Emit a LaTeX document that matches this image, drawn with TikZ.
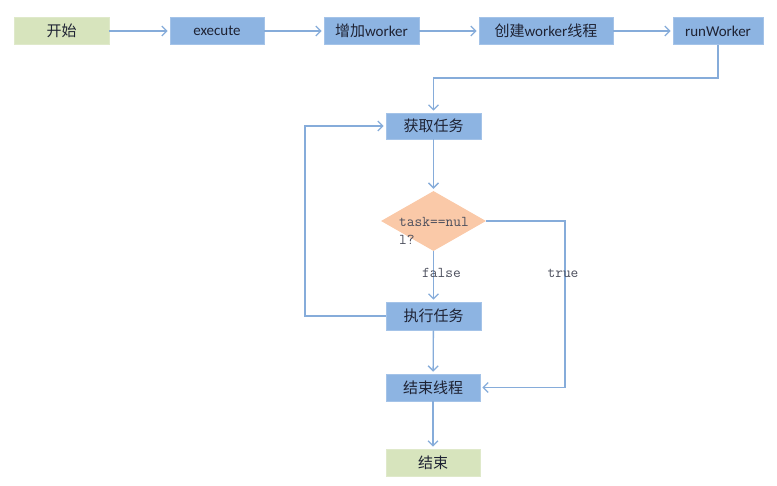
\documentclass[tikz,border=0pt]{standalone}
\usepackage{fontspec}
\setmainfont{Carlito}
\newfontfamily\cjk{Noto Sans CJK SC}
\newfontfamily\mono{Latin Modern Mono}
\usetikzlibrary{shapes.geometric,arrows.meta}
\definecolor{boxblue}{HTML}{8DB4E2}
\definecolor{boxgreen}{HTML}{D7E4BD}
\definecolor{peach}{HTML}{FAC9A8}
\definecolor{linec}{HTML}{86ACDA}
\definecolor{txt}{HTML}{1E2233}
\begin{document}
\begin{tikzpicture}[x=1pt,y=-1pt,
  bx/.style={rectangle,fill=boxblue,draw=boxblue!80!white,line width=0.6pt,minimum height=27pt,inner sep=0pt,text=txt,font=\fontsize{15}{17}\selectfont},
  gbx/.style={bx,fill=boxgreen,draw=boxgreen!80!white},
  arr/.style={draw=linec,line width=1.3pt,-{Straight Barb[length=5pt,width=10pt,line width=1.3pt]},shorten >=2pt},
  lbl/.style={text=txt!80,font=\mono\fontsize{15}{17}\selectfont,inner sep=0pt}
]
\path[use as bounding box] (0,0) rectangle (777,485);
\node[gbx,minimum width=95pt] (start) at (61.5,31) {\cjk 开始};
\node[bx,minimum width=94pt] (exec) at (217,31) {execute};
\node[bx,minimum width=95pt] (add) at (371.5,31) {{\cjk 增加}worker};
\node[bx,minimum width=134pt] (create) at (546,31) {{\cjk 创建}worker{\cjk 线程}};
\node[bx,minimum width=90pt] (run) at (718,31) {runWorker};
\node[bx,minimum width=95pt,minimum height=26pt] (get) at (433.5,126) {\cjk 获取任务};
\node[diamond,fill=peach,minimum width=105pt,minimum height=60pt,inner sep=0pt] (dec) at (433.5,221) {};
\node[lbl,anchor=west,align=left,font=\mono\fontsize{15}{18}\selectfont] (dectext) at (399,231) {task==nul\\l?};
\node[bx,minimum width=95pt,minimum height=28pt] (do) at (433.5,316) {\cjk 执行任务};
\node[bx,minimum width=94pt] (endt) at (433,387.5) {\cjk 结束线程};
\node[gbx,minimum width=94pt] (end) at (433,462.5) {\cjk 结束};
\coordinate (c1) at (718,78);
\coordinate (c2) at (433.5,78);
\coordinate (loopc) at (305,221);
\coordinate (truec) at (565,300);
\draw[arr] (start) -- (exec);
\draw[arr] (exec) -- (add);
\draw[arr] (add) -- (create);
\draw[arr] (create) -- (run);
\draw[arr] (run.south) -- (c1) -- (c2) -- (get.north);
\draw[arr] (get) -- (dec);
\draw[arr] (dec) -- (do);
\draw[arr] (do.west) -| (loopc) |- (get.west);
\draw[arr] (dec.east) -| (truec) |- (endt.east);
\draw[arr] (do) -- (endt);
\draw[arr] (endt) -- (end);
\node[lbl] (falsel) at (441.5,273) {false};
\node[lbl] (truel) at (563,273) {true};
\end{tikzpicture}
\end{document}
